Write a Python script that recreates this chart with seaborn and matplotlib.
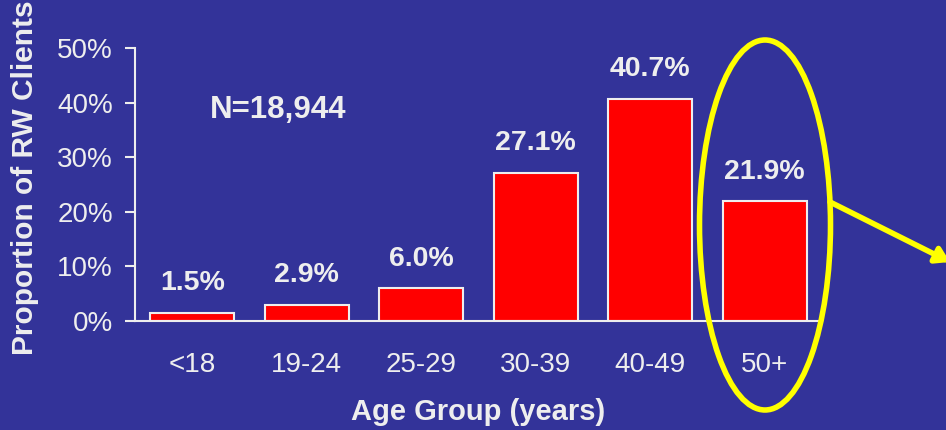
import matplotlib
matplotlib.use("Agg")
import matplotlib.pyplot as plt
import seaborn as sns
import pandas as pd
from matplotlib.patches import Ellipse

# dados do gráfico
grupos = ["<18", "19-24", "25-29", "30-39", "40-49", "50+"]
proporcao = [1.5, 2.9, 6.0, 27.1, 40.7, 21.9]
rotulos = ["1.5%", "2.9%", "6.0%", "27.1%", "40.7%", "21.9%"]
yticks = [0, 10, 20, 30, 40, 50]
ytick_labels = ["0%", "10%", "20%", "30%", "40%", "50%"]

df = pd.DataFrame({"grupo": grupos, "prop": proporcao})

fundo = "#333399"
texto = "#EEEEEE"

sns.set_style("white")
plt.rcParams["font.family"] = ["Liberation Sans", "DejaVu Sans"]

fig = plt.figure(figsize=(9.46, 4.30), dpi=100, facecolor=fundo)
ax = fig.add_axes([135 / 946, 1 - 321 / 430, (822 - 135) / 946, (321 - 48) / 430])
ax.set_facecolor(fundo)

sns.barplot(data=df, x="grupo", y="prop", color="red", edgecolor=texto,
            linewidth=1.5, width=0.73, saturation=1, ax=ax)

for i, (v, r) in enumerate(zip(proporcao, rotulos)):
    ax.annotate(r, (i, v), xytext=(0, 12), textcoords="offset points",
                ha="center", va="bottom", color=texto, fontsize=20.5, fontweight="bold")

ax.text(0.75, 38.6, "N=18,944", ha="center", va="center", color=texto,
        fontsize=22.5, fontweight="bold")

ax.set_xlim(-0.5, 5.5)
ax.set_ylim(0, 50)
ax.set_yticks(yticks)
ax.set_yticklabels(ytick_labels)
ax.set_xticks(range(len(grupos)))
ax.set_xticklabels(grupos)
ax.set_xticks([i - 0.5 for i in range(len(grupos) + 1)], minor=True)
ax.tick_params(axis="x", which="major", length=0, pad=22, labelsize=20, labelcolor=texto)
ax.tick_params(axis="x", which="minor", length=7, width=1.5, color=texto, direction="out")
ax.tick_params(axis="y", length=7, width=1.5, color=texto, direction="out", pad=9,
               labelsize=20, labelcolor=texto, left=True)

for s in ["top", "right"]:
    ax.spines[s].set_visible(False)
for s in ["left", "bottom"]:
    ax.spines[s].set_color(texto)
    ax.spines[s].set_linewidth(1.5)

ax.set_xlabel("")
ax.set_ylabel("")
fig.text(478 / 946, 1 - 412 / 430, "Age Group (years)", ha="center", va="center",
         color=texto, fontsize=21, fontweight="bold")
fig.text(25 / 946, 1 - 178 / 430, "Proportion of RW Clients", ha="center", va="center",
         rotation=90, color=texto, fontsize=21.5, fontweight="bold")

# elipse amarela e seta
el = Ellipse((765 / 946, 1 - 225 / 430), 131 / 946, 370 / 430, transform=fig.transFigure,
             fill=False, edgecolor="yellow", linewidth=4, clip_on=False)
fig.patches.append(el)
ax.annotate("", xy=(950 / 946, 1 - 262 / 430), xytext=(830 / 946, 1 - 202 / 430),
            xycoords="figure fraction", textcoords="figure fraction",
            arrowprops=dict(arrowstyle="-|>,head_length=0.8,head_width=0.5",
                            color="yellow", linewidth=4, shrinkA=0, shrinkB=0),
            annotation_clip=False)

fig.savefig("out.png", dpi=100, facecolor=fundo)
